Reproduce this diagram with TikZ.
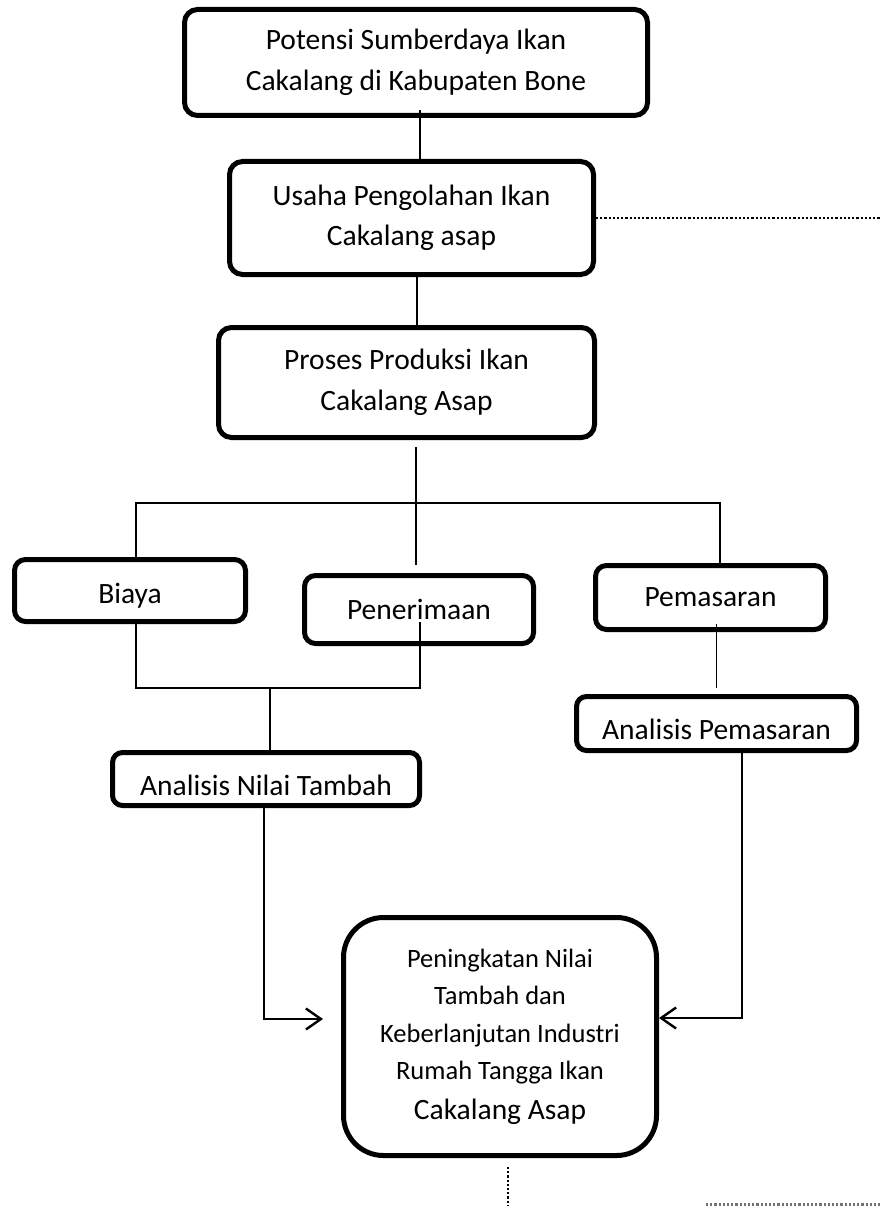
\documentclass[tikz,border=0pt]{standalone}
\usepackage{fontspec}
\setmainfont{Carlito}
\usetikzlibrary{arrows.meta}

\begin{document}
\begin{tikzpicture}[x=1pt,y=-1pt,>={Straight Barb[length=15pt,width=21pt,line width=2.4pt]},
  box/.style={draw,line width=5pt,rounded corners=13pt,align=center,inner sep=0pt,
    font=\fontsize{29.5}{40.5}\selectfont},
  low/.style={text height=32pt,text depth=0pt},
  link/.style={line width=1.3pt},
  feed/.style={line width=1.8pt,->},
  dots/.style={line width=2.4pt,dash pattern=on 2.2pt off 2pt}]
  \useasboundingbox (0,0) rectangle (882,1206);
  \node[box,minimum width=463pt,minimum height=106pt] (potensi) at (416,62.5)
    {Potensi Sumberdaya Ikan\\Cakalang di Kabupaten Bone};
  \node[box,minimum width=364pt,minimum height=113pt] (usaha) at (411.5,218)
    {Usaha Pengolahan Ikan\\Cakalang asap};
  \node[box,minimum width=376pt,minimum height=110pt] (proses) at (406.5,382.5)
    {Proses Produksi Ikan\\Cakalang Asap};
  \node[box,text height=25pt,text depth=0pt,rounded corners=11pt,minimum width=231pt,minimum height=62pt] (biaya) at (130,590.5) {Biaya};
  \node[box,rounded corners=11pt,minimum width=229pt,minimum height=68pt] (penerimaan) at (419,609.5) {Penerimaan};
  \node[box,rounded corners=11pt,minimum width=230pt,minimum height=64pt] (pemasaran) at (710.5,597.5) {Pemasaran};
  \node[box,low,rounded corners=10pt,minimum width=280pt,minimum height=54pt] (anP) at (716.5,723.5) {Analisis Pemasaran};
  \node[box,low,rounded corners=10pt,minimum width=307pt,minimum height=53pt] (anNT) at (266,779) {Analisis Nilai Tambah};
  \node[box,rounded corners=40pt,minimum width=313pt,minimum height=238pt,
    font=\fontsize{26.5}{37.5}\selectfont] (hasil) at (500,1036.5)
    {Peningkatan Nilai\\Tambah dan\\Keberlanjutan Industri\\Rumah Tangga Ikan\\[2pt]{\fontsize{29.5}{40}\selectfont Cakalang Asap}};

  \coordinate (a1) at ([xshift=4pt]potensi.south);
  \coordinate (a2) at ([xshift=5.5pt]usaha.south);
  \coordinate (a3) at ([xshift=9.5pt]proses.south);
  \coordinate (fork) at (416,503);
  \coordinate (join) at (270,688);
  \draw[link,shorten <=-8pt] (a1) -- (a1 |- usaha.north);
  \draw[link] (a2) -- (a2 |- proses.north);
  \draw[link,shorten <=7pt,shorten >=8pt] (a3) -- (a3 |- penerimaan.north);
  \draw[link] ([xshift=6pt]biaya.north) |- (fork) -| ([xshift=9.5pt]pemasaran.north);
  \draw[link] ([xshift=6pt]biaya.south) |- (join) -| ([xshift=1pt,yshift=24pt]penerimaan.south);
  \draw[link] (join) -- (join |- anNT.north);
  \draw[link,shorten <=-8pt,shorten >=6pt] (pemasaran.south -| anP.north) -- (anP.north);

  \coordinate (inL) at ([xshift=-18pt,yshift=17.5pt]hasil.west);
  \coordinate (inR) at ([xshift=25.5pt]anP.south);
  \draw[feed] ([xshift=-2pt]anNT.south) |- (inL);
  \draw[feed] (inR) |- ([yshift=18.5pt]hasil.east);

  \coordinate (rim) at (882,0);
  \coordinate (foot) at (0,1206);
  \coordinate (a4) at ([xshift=8pt]hasil.south);
  \coordinate (s1) at (706,1204.5);
  \coordinate (s2) at (882,1204.5);
  \draw[dots] (usaha.east) -- (usaha.east -| rim);
  \draw[dots,shorten <=9pt] (a4) -- (a4 |- foot);
  \draw[dots,black!55] (s1) -- (s2);
\end{tikzpicture}
\end{document}
